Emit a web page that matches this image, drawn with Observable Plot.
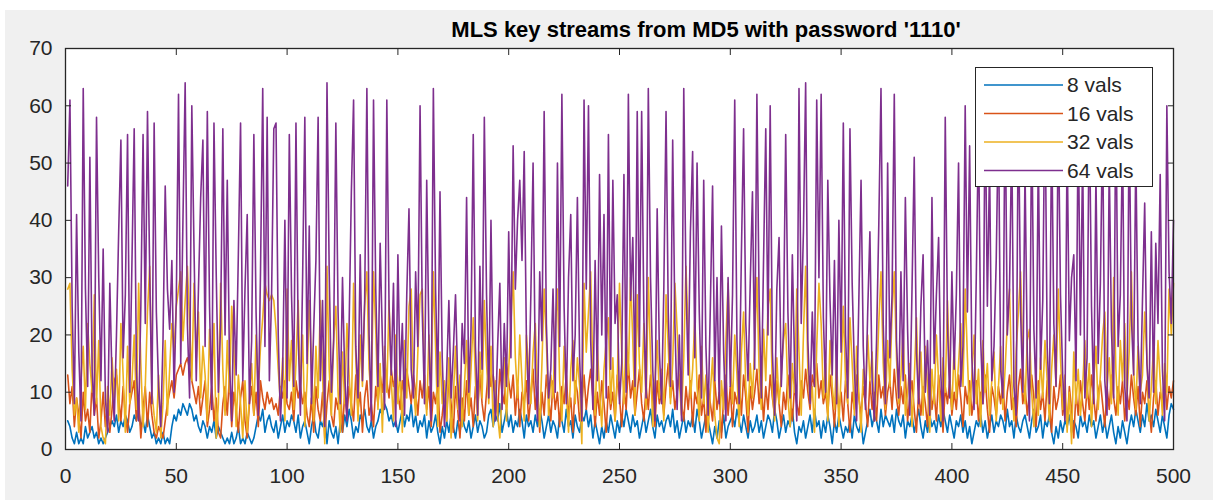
<!DOCTYPE html>
<html>
<head>
<meta charset="utf-8">
<script src="https://cdn.jsdelivr.net/npm/d3@7"></script>
<script src="https://cdn.jsdelivr.net/npm/@observablehq/plot@0.6"></script>
<style>
  html, body { margin: 0; padding: 0; background: #ffffff; }
  #wrap { position: relative; width: 1213px; height: 500px; overflow: hidden; background: #ffffff; }
  #bg { position: absolute; left: 5px; top: 10px; width: 1208px; height: 490px; background: #f0f0f0; }
  #chart { position: absolute; left: 0; top: 0; }
  #title { position: absolute; left: 356px; width: 700px; top: 17px; text-align: center;
           font: bold 22px "Liberation Sans", Arial, sans-serif; color: #000; }
  #legend { position: absolute; left: 975px; top: 67px; width: 176px; height: 118px;
            border: 1px solid #262626; background: #fff; }
  #legend svg { position: absolute; left: 0; top: 0; }
</style>
</head>
<body>
<div id="wrap">
  <div id="bg"></div>
  <div id="chart"></div>
  <div id="title"></div>
  <div id="legend"></div>
</div>
<script>
const titleText = "MLS key streams from MD5 with password '1110'";
const seriesNames = ["8 vals", "16 vals", "32 vals", "64 vals"];
const seriesColors = ["#0072BD", "#D95319", "#EDB120", "#7E2F8E"];
const xTicks = [0, 50, 100, 150, 200, 250, 300, 350, 400, 450, 500];
const yTicks = [0, 10, 20, 30, 40, 50, 60, 70];

const vals8 = [
5,4,2,1,3,1,2,1,4,2, 3,4,2,3,1,2,1,2,3,4, 5,4,6,3,5,4,6,5,3,4, 6,5,7,4,5,3,6,4,2,3, 1,2,1,3,1,2,1,4,6,5,
7,6,8,7,6,8,7,5,6,4, 3,5,4,2,4,3,5,2,4,3, 2,1,2,1,3,1,2,4,1,2, 1,3,2,1,2,4,6,5,7,3, 5,6,4,3,5,2,4,6,3,5,
4,6,5,3,6,2,4,5,3,1, 4,6,3,2,5,4,6,1,5,3, 2,4,1,5,3,6,4,7,5,2, 4,3,6,5,7,4,3,5,2,4, 5,7,6,8,7,5,6,4,5,3,
5,7,4,6,5,8,4,6,3,5, 4,6,2,5,3,4,6,3,1,4, 2,5,3,6,4,2,5,3,6,4, 3,5,2,4,6,3,5,4,2,3, 6,7,4,6,5,8,3,5,7,4,
6,3,5,4,7,5,2,6,4,5, 3,6,4,7,5,2,4,6,3,5, 4,2,6,5,3,7,4,5,2,6, 4,3,6,5,7,4,6,2,5,3, 1,4,2,5,3,6,4,2,5,3,
6,4,7,5,3,6,4,5,2,4, 6,3,5,7,4,2,6,4,5,3, 5,6,4,7,3,5,2,4,6,3, 5,4,6,3,7,5,2,4,6,5, 3,1,4,2,5,3,6,2,4,5,
6,4,7,5,3,6,4,2,5,3, 4,6,3,5,2,4,6,5,3,7, 5,2,4,6,3,5,4,7,3,1, 4,3,5,2,4,6,3,7,4,5, 2,5,3,6,4,1,5,3,6,4,
2,4,3,5,2,6,4,3,5,1, 3,5,7,4,6,5,3,7,4,6, 5,4,6,3,7,5,4,6,2,5, 4,6,3,5,7,4,2,5,3,6, 4,5,3,6,4,7,5,3,6,4,
2,5,4,6,3,5,2,4,1,3, 5,4,6,3,5,2,4,6,3,5, 4,6,5,3,7,4,5,2,6,4, 3,5,6,4,2,5,7,3,4,6, 2,5,4,6,3,1,4,2,5,3,
5,4,6,3,5,4,2,6,4,5, 3,6,4,5,2,4,6,3,5,2, 4,6,3,1,4,2,5,3,1,4, 6,4,7,5,3,6,4,8,5,6, 4,7,5,3,6,4,2,6,8,7
];

const vals16 = [
13,8,11,4,9,6,2,10,5,7, 3,12,6,9,2,5,10,4,8,3, 7,12,13,9,5,11,6,3,8,10, 12,5,9,2,7,11,4,10,6,3, 2,4,3,2,5,8,10,12,9,13,
14,15,13,15,16,14,12,10,8,11, 6,9,12,4,7,11,5,9,3,2, 8,11,6,13,4,10,7,3,9,12, 5,2,8,11,6,10,4,12,9,7, 10,8,9,7,8,6,11,9,12,8,
7,10,5,12,9,11,8,10,6,4, 9,3,11,7,5,10,2,8,12,6, 4,9,7,12,3,10,6,11,8,5, 13,7,10,3,9,12,6,8,4,11, 8,13,10,15,12,9,14,11,13,10,
7,12,9,14,11,8,13,10,6,12, 9,13,7,11,4,10,8,12,3,6, 10,5,13,8,3,11,7,2,9,5, 12,6,9,4,11,7,13,8,5,10, 15,11,13,9,6,14,10,8,15,12,
9,13,6,11,4,10,8,12,5,9, 14,7,11,3,10,6,13,9,5,12, 7,10,4,11,8,13,6,9,3,12, 10,5,8,13,7,11,14,9,4,10, 6,12,8,3,11,7,10,5,13,9,
4,11,7,15,9,12,6,10,14,8, 5,11,7,13,9,4,12,8,10,6, 11,15,9,12,7,10,13,8,5,11, 7,12,4,10,8,13,6,9,3,11, 8,5,12,7,10,2,9,13,6,11,
4,10,8,12,6,13,9,3,11,7, 10,14,8,12,5,11,7,13,9,6, 12,8,4,10,7,13,9,5,11,8, 6,12,9,14,10,7,13,11,15,9, 12,8,10,6,13,9,4,11,7,10,
5,12,8,3,10,7,13,9,6,11, 8,4,12,7,10,5,13,9,11,6, 10,12,7,14,9,6,11,8,13,5, 9,12,7,3,10,6,11,8,4,12, 7,10,5,13,9,3,11,8,12,6,
10,7,13,9,4,11,8,12,6,9, 12,5,10,8,13,7,3,11,9,6, 11,8,12,5,10,13,7,9,4,11, 14,8,11,6,10,13,9,4,12,7, 10,5,12,8,3,11,7,9,13,6,
9,4,11,7,2,10,6,12,8,5, 11,7,13,9,5,10,12,8,4,11, 7,13,9,6,11,8,12,5,10,7, 13,9,6,11,4,10,8,12,7,3, 9,12,6,10,8,13,7,11,9,12
];

const vals32 = [
28,29,14,6,9,3,12,18,7,22, 15,10,27,8,19,4,2,1,11,6, 16,9,14,5,22,13,3,18,8,12, 20,7,29,15,4,11,24,32,10,6, 3,13,2,8,19,6,14,22,17,25,
28,31,19,26,32,22,12,29,16,24, 9,18,13,5,21,11,22,2,8,29, 14,6,19,10,25,17,4,13,8,2, 12,3,9,15,6,20,10,18,23,29, 27,26,27,26,21,14,8,16,5,28,
12,19,7,15,26,10,20,4,12,26, 15,5,18,9,26,13,1,32,14,6, 19,25,10,3,17,8,22,13,6,29, 16,5,20,11,25,31,14,9,31,21, 7,15,3,18,10,26,12,5,20,8,
14,3,19,9,25,28,11,6,17,27, 28,13,6,20,10,31,18,4,17,8, 12,5,16,2,9,18,7,13,4,11, 19,6,14,23,12,5,17,9,26,15, 8,18,4,12,6,2,10,16,5,14,
22,31,16,9,20,12,5,20,14,8, 17,22,10,4,15,28,19,6,13,9, 21,28,12,5,18,10,3,14,19,8, 16,11,1,29,17,24,31,13,6,18, 10,4,14,19,23,8,16,5,12,29,
17,8,21,13,30,19,6,27,15,10, 22,7,30,16,4,12,19,9,14,5, 27,18,8,15,29,21,12,6,16,32, 20,9,14,23,11,5,18,8,13,3, 10,16,6,2,1,12,7,19,29,15,
8,20,13,4,17,24,11,6,15,9, 18,30,14,7,21,12,25,28,10,5, 16,8,13,19,22,9,4,15,10,28, 17,6,20,32,14,8,11,3,18,29, 22,9,15,5,19,11,7,16,4,13,
25,12,8,23,15,6,18,10,3,14, 9,20,12,17,5,11,22,31,15,7, 19,11,24,31,16,8,13,21,6,10, 15,4,12,23,9,17,6,18,11,3, 14,8,20,12,5,16,10,26,13,7,
18,9,15,22,11,28,16,6,13,20, 8,14,4,19,10,15,6,12,17,5, 11,18,7,14,22,28,12,5,17,24, 31,15,8,19,21,10,4,13,6,16, 9,19,12,5,14,20,11,28,16,7,
13,3,10,1,17,8,14,6,11,19, 9,15,4,12,18,7,13,20,24,11, 16,8,30,14,6,19,12,22,9,17, 31,14,7,18,10,13,24,16,5,11, 18,8,19,12,6,15,10,28,20,29
];

const vals64 = [
46,61,25,8,41,17,5,63,28,11, 51,14,6,58,30,12,35,9,3,29, 12,5,20,38,54,16,27,55,10,33, 56,14,5,25,55,22,59,31,8,57, 24,11,4,19,46,28,21,33,10,26,
62,15,40,64,22,9,60,35,12,28, 44,54,18,59,25,7,57,31,10,22, 56,20,47,15,5,26,13,34,57,12, 28,41,8,19,55,24,6,31,63,18, 58,12,27,56,57,20,5,14,40,9,
55,27,11,57,20,6,30,58,15,39, 8,21,33,58,12,26,4,64,31,10, 19,57,24,8,30,13,5,22,45,61, 18,9,34,12,26,63,20,5,61,28, 11,36,19,7,61,25,13,29,4,34,
12,22,6,27,42,14,9,31,18,60, 24,8,47,19,5,63,28,11,45,16, 4,13,26,9,17,27,12,5,22,15, 44,10,21,55,18,6,32,14,58,27, 9,40,13,5,18,29,7,22,11,38,
16,53,28,40,47,33,52,19,8,27, 50,14,5,31,19,59,22,9,14,28, 10,50,18,62,25,8,30,41,12,20, 44,16,5,61,28,60,19,7,33,12, 48,20,41,9,55,14,47,22,27,8,
15,48,10,62,26,37,11,59,18,59, 23,9,63,30,14,5,42,17,8,28, 59,24,11,54,22,7,20,5,63,29, 13,38,52,16,50,24,9,47,18,6, 25,46,12,30,8,39,17,5,30,11,
27,61,19,8,34,56,22,12,29,45, 14,62,26,9,33,56,20,60,17,6, 28,37,11,21,55,24,9,34,15,5, 63,22,38,64,19,8,24,11,61,30, 62,23,10,47,26,13,33,8,40,17,
57,20,9,56,29,14,5,26,47,18, 7,24,38,12,5,19,39,63,22,8, 50,16,27,62,19,9,31,12,44,21, 6,28,51,17,8,25,34,10,19,6, 44,15,27,37,13,5,58,22,9,31,
14,27,50,11,18,60,24,53,16,7, 30,56,19,8,62,25,50,12,18,33, 58,14,9,63,20,28,55,11,6,61, 24,10,49,17,5,59,21,9,52,14, 26,63,18,8,57,22,11,60,27,13,
5,54,19,30,34,12,58,20,52,9, 16,61,25,8,48,15,29,57,12,6, 50,21,9,62,18,27,55,11,5,59, 23,13,52,19,8,26,43,15,9,38, 10,36,22,48,14,5,60,31,22,40
];

const allVals = [vals8, vals16, vals32, vals64];
const data = [];
allVals.forEach((arr, si) => arr.forEach((v, i) => data.push({x: i + 1, y: v, s: seriesNames[si]})));

const lineMarks = seriesNames.map((name, si) =>
  Plot.lineY(data.filter(d => d.s === name), {x: "x", y: "y", stroke: seriesColors[si], strokeWidth: 1.6})
);

const chart = Plot.plot({
  width: 1213,
  height: 500,
  marginLeft: 65,
  marginRight: 40,
  marginTop: 48,
  marginBottom: 51,
  x: {domain: [0, 500]},
  y: {domain: [0, 70]},
  style: {background: "transparent", fontFamily: "'Liberation Sans', Arial, sans-serif", fontSize: "21px", color: "#262626"},
  marks: [
    Plot.frame({fill: "white"}),
    ...lineMarks,
    Plot.axisX({anchor: "bottom", ticks: xTicks, tickSize: -6, tickPadding: 25, label: null, stroke: "#262626", fill: "#262626"}),
    Plot.axisX({anchor: "top", ticks: xTicks, tickSize: -6, tickFormat: () => "", label: null, stroke: "#262626"}),
    Plot.axisY({anchor: "left", ticks: yTicks, tickSize: -6, tickPadding: 19, label: null, stroke: "#262626", fill: "#262626"}),
    Plot.axisY({anchor: "right", ticks: yTicks, tickSize: -6, tickFormat: () => "", label: null, stroke: "#262626"}),
    Plot.frame({stroke: "#262626", strokeWidth: 1.3})
  ]
});
document.getElementById("chart").appendChild(chart);
document.getElementById("title").textContent = titleText;

// legend (HTML overlay with a small SVG for the sample lines and labels)
const ns = "http://www.w3.org/2000/svg";
const lsvg = document.createElementNS(ns, "svg");
lsvg.setAttribute("width", 176);
lsvg.setAttribute("height", 118);
seriesNames.forEach((name, si) => {
  const cy = 17 + si * 28.5;
  const ln = document.createElementNS(ns, "line");
  ln.setAttribute("x1", 8); ln.setAttribute("x2", 87);
  ln.setAttribute("y1", cy); ln.setAttribute("y2", cy);
  ln.setAttribute("stroke", seriesColors[si]);
  ln.setAttribute("stroke-width", 1.6);
  lsvg.appendChild(ln);
  const tx = document.createElementNS(ns, "text");
  tx.setAttribute("x", 91); tx.setAttribute("y", cy);
  tx.setAttribute("dy", "0.35em");
  tx.setAttribute("fill", "#262626");
  tx.setAttribute("font-family", "'Liberation Sans', Arial, sans-serif");
  tx.setAttribute("font-size", "21px");
  tx.textContent = name;
  lsvg.appendChild(tx);
});
document.getElementById("legend").appendChild(lsvg);
</script>
</body>
</html>
